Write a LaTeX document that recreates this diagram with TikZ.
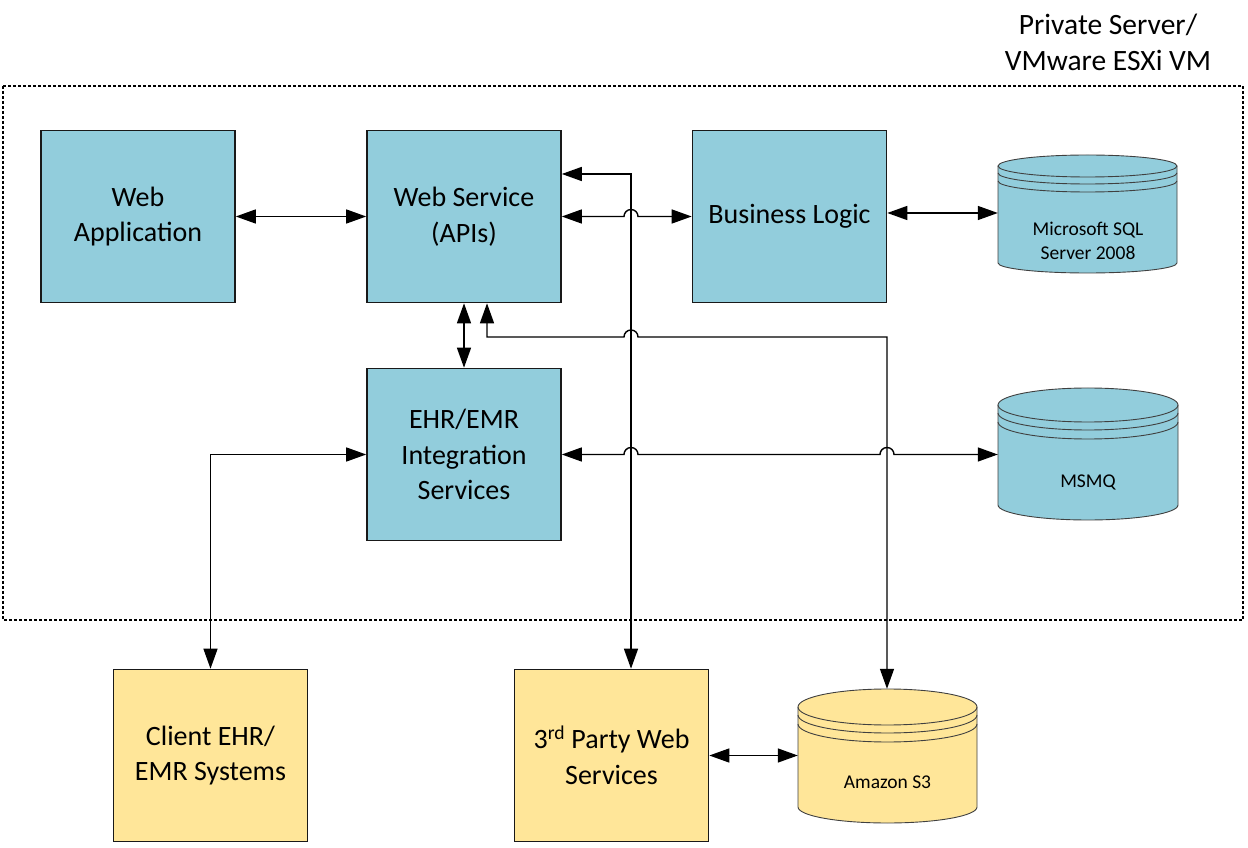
\documentclass[tikz,border=0pt]{standalone}
\usepackage{fontspec}
\setmainfont{Carlito}
\usetikzlibrary{arrows.meta,calc}
\definecolor{boxblue}{HTML}{92CDDC}
\definecolor{boxyellow}{HTML}{FFE699}
\definecolor{cylline}{HTML}{404040}
\newcommand\dbcyl[9]{% name, left, right, top-centre y, top ry, bottom-centre y, bottom ry, fill, stripe gap
  \pgfmathsetmacro\cylcx{(#2+#3)/2}%
  \pgfmathsetmacro\cylrx{(#3-#2)/2}%
  \pgfmathsetmacro\cylcy{((#4+#5)+(#6-#7))/2}%
  \pgfmathsetmacro\cylh{(#4+#5)-(#6-#7)}%
  \fill[#8] (#2,#4) -- (#2,#6) arc[start angle=180,end angle=360,x radius=\cylrx,y radius=#7] -- (#3,#4) arc[start angle=0,end angle=180,x radius=\cylrx,y radius=#5] -- cycle;
  \draw[cylstroke] (#2,#4) -- (#2,#6) arc[start angle=180,end angle=360,x radius=\cylrx,y radius=#7] -- (#3,#4);
  \draw[cylstroke] (\cylcx,#4) ellipse[x radius=\cylrx,y radius=#5];
  \draw[cylstroke] (#2,#4-#9) arc[start angle=180,end angle=360,x radius=\cylrx,y radius=#5];
  \draw[cylstroke] (#2,#4-2*#9-1) arc[start angle=180,end angle=360,x radius=\cylrx,y radius=#5];
  \node[inner sep=0pt, minimum width=#3-#2, minimum height=\cylh] (#1) at (\cylcx,\cylcy) {};
}
\begin{document}
\begin{tikzpicture}[x=1pt,y=1pt,
  procbox/.style={draw=black!90, line width=1.6pt, minimum width=194pt, minimum height=172pt, inner sep=0pt, align=center, font=\fontsize{28}{35.5}\selectfont},
  bluebox/.style={procbox, fill=boxblue},
  yelbox/.style={procbox, fill=boxyellow},
  cylstroke/.style={draw=cylline, line width=0.9pt},
  cyltext/.style={align=center, inner sep=0pt, font=\fontsize{19.5}{24}\selectfont},
  tipA/.tip={Triangle[length=20pt,width=14pt]},
  dbl/.style={line width=1.4pt, tipA-tipA},
  frame/.style={line width=1.2pt, dash pattern=on 3pt off 2pt}
]
\useasboundingbox (0,0) rectangle (1248,847);
% frame
\draw[frame] (3,761) rectangle (1243,227);
\node[align=center, inner sep=0pt, font=\fontsize{29.5}{36}\selectfont] (lbl) at (1108,805) {Private Server/\\VMware ESXi VM};
% boxes
\node[bluebox] (wa) at (138,630.5) {Web\\Application};
\node[bluebox] (ws) at (464,630.5) {Web Service\\(APIs)};
\node[bluebox] (bl) at (789.5,630.5) {Business Logic};
\node[bluebox] (ehr) at (464,392.5) {EHR/EMR\\Integration\\Services};
\node[yelbox] (cl) at (210.5,91.5) {Client EHR/\\EMR Systems};
\node[yelbox] (tp) at (611.5,91.5) {3\textsuperscript{rd} Party Web\\Services};
% cylinders
\dbcyl{sql}{998}{1177}{681}{11}{584}{10}{boxblue}{7}
\node[cyltext] (sqlt) at (1088,606) {Microsoft SQL\\Server 2008};
\dbcyl{mq}{998}{1178}{442}{17}{342}{15}{boxblue}{8}
\node[cyltext] (mqt) at (1088,365) {MSMQ};
\dbcyl{s3}{798}{977}{140}{18}{40}{16}{boxyellow}{8}
\node[cyltext] (s3t) at (887.5,65) {Amazon S3};
% helper coordinates
\coordinate (hx1) at (631,0);
\coordinate (hx2) at (887,0);
\coordinate (yt) at (0,673);
\coordinate (ybl) at (0,634);
\coordinate (ys3) at (0,510);
\coordinate (xs3) at (487,0);
% connectors
\draw[dbl] (wa.east) -- (ws.west);
\draw[dbl] (ws.east) -- ($(ws.east -| hx1)+(-7,0)$) arc[start angle=180,end angle=0,radius=7] -- (bl.west);
\draw[dbl] (bl.east |- ybl) -- (sql.west |- ybl);
\draw[dbl] (ws.east |- yt) -- (hx1 |- yt) -- (hx1 |- tp.north);
\draw[dbl] (ws.south) -- (ehr.north);
\draw[dbl] (xs3 |- ws.south) -- (xs3 |- ys3) -- ($(hx1 |- ys3)+(-7,0)$) arc[start angle=180,end angle=0,radius=7] -- (hx2 |- ys3) -- (hx2 |- s3.north);
\draw[dbl] (ehr.east) -- ($(ehr.east -| hx1)+(-7,0)$) arc[start angle=180,end angle=0,radius=7] -- ($(ehr.east -| hx2)+(-7,0)$) arc[start angle=180,end angle=0,radius=7] -- (mq.west |- ehr.east);
\draw[dbl] (ehr.west) -- (cl.north |- ehr.west) -- (cl.north);
\draw[dbl] (tp.east) -- (s3.west |- tp.east);
\end{tikzpicture}
\end{document}
